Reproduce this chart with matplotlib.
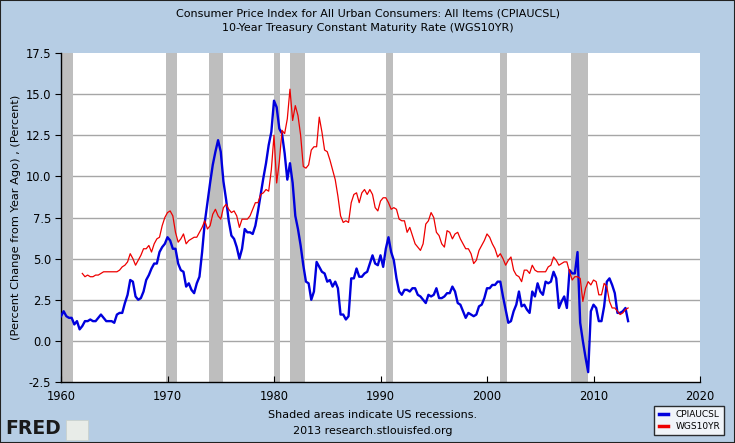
import matplotlib
matplotlib.use("Agg")
import matplotlib.pyplot as plt
import numpy as np
from matplotlib.patches import Rectangle

# CPI, percent change from year ago, quarterly from 1960
cpi_start = 1960
cpi = [
    1.5, 1.8, 1.5, 1.4,   # 1960
    1.4, 1.0, 1.2, 0.7,   # 1961
    0.9, 1.2, 1.2, 1.3,   # 1962
    1.2, 1.2, 1.4, 1.6,   # 1963
    1.4, 1.2, 1.2, 1.2,   # 1964
    1.1, 1.6, 1.7, 1.7,   # 1965
    2.3, 2.8, 3.7, 3.6,   # 1966
    2.7, 2.5, 2.6, 3.0,   # 1967
    3.7, 4.0, 4.4, 4.7,   # 1968
    4.7, 5.4, 5.7, 5.9,   # 1969
    6.3, 6.1, 5.6, 5.6,   # 1970
    4.7, 4.3, 4.2, 3.3,   # 1971
    3.5, 3.1, 2.9, 3.5,   # 1972
    3.9, 5.4, 7.2, 8.4,   # 1973
    9.6, 10.7, 11.5, 12.2,  # 1974
    11.5, 9.7, 8.6, 7.3,  # 1975
    6.4, 6.2, 5.7, 5.0,   # 1976
    5.6, 6.8, 6.6, 6.6,   # 1977
    6.5, 7.0, 7.9, 8.9,   # 1978
    9.9, 10.8, 11.9, 12.7,  # 1979
    14.6, 14.2, 12.9, 12.6,  # 1980
    11.4, 9.8, 10.8, 9.6,  # 1981
    7.6, 6.8, 5.8, 4.6,   # 1982
    3.6, 3.5, 2.5, 3.0,   # 1983
    4.8, 4.5, 4.2, 4.1,   # 1984
    3.6, 3.7, 3.3, 3.6,   # 1985
    3.2, 1.6, 1.6, 1.3,   # 1986
    1.5, 3.8, 3.8, 4.4,   # 1987
    3.9, 3.9, 4.1, 4.2,   # 1988
    4.7, 5.2, 4.7, 4.6,   # 1989
    5.2, 4.5, 5.6, 6.3,   # 1990
    5.4, 4.9, 3.8, 3.0,   # 1991
    2.8, 3.1, 3.1, 3.0,   # 1992
    3.2, 3.2, 2.8, 2.7,   # 1993
    2.5, 2.3, 2.8, 2.7,   # 1994
    2.8, 3.2, 2.6, 2.6,   # 1995
    2.7, 2.9, 2.9, 3.3,   # 1996
    3.0, 2.3, 2.2, 1.8,   # 1997
    1.4, 1.7, 1.6, 1.5,   # 1998
    1.6, 2.1, 2.2, 2.6,   # 1999
    3.2, 3.2, 3.4, 3.4,   # 2000
    3.6, 3.6, 2.7, 1.9,   # 2001
    1.1, 1.2, 1.8, 2.2,   # 2002
    3.0, 2.1, 2.2, 1.9,   # 2003
    1.7, 3.0, 2.7, 3.5,   # 2004
    3.0, 2.8, 3.6, 3.5,   # 2005
    3.6, 4.2, 3.8, 2.0,   # 2006
    2.4, 2.7, 2.0, 4.3,   # 2007
    4.1, 4.1, 5.4, 1.1,   # 2008
    0.0, -1.0, -1.9, 1.8,  # 2009
    2.2, 2.0, 1.2, 1.2,   # 2010
    2.1, 3.6, 3.8, 3.4,   # 2011
    2.9, 1.7, 1.7, 1.8,   # 2012
    2.0, 1.2,             # 2013
]

# 10-year treasury rate, quarterly from 1962
gs10_start = 1962
gs10 = [
    4.1, 3.9, 4.0, 3.9,   # 1962
    3.9, 4.0, 4.0, 4.1,   # 1963
    4.2, 4.2, 4.2, 4.2,   # 1964
    4.2, 4.2, 4.3, 4.5,   # 1965
    4.6, 4.8, 5.3, 5.0,   # 1966
    4.6, 4.9, 5.2, 5.6,   # 1967
    5.6, 5.8, 5.4, 5.9,   # 1968
    6.2, 6.3, 7.0, 7.5,   # 1969
    7.8, 7.9, 7.6, 6.6,   # 1970
    6.0, 6.2, 6.5, 5.9,   # 1971
    6.1, 6.2, 6.3, 6.3,   # 1972
    6.6, 6.9, 7.3, 6.8,   # 1973
    7.0, 7.7, 8.0, 7.6,   # 1974
    7.4, 8.1, 8.3, 8.0,   # 1975
    7.8, 7.9, 7.6, 6.9,   # 1976
    7.4, 7.4, 7.4, 7.6,   # 1977
    8.0, 8.4, 8.4, 8.9,   # 1978
    9.0, 9.2, 9.1, 10.4,  # 1979
    12.5, 9.6, 10.9, 12.8,  # 1980
    12.6, 13.5, 15.3, 13.4,  # 1981
    14.3, 13.7, 12.5, 10.6,  # 1982
    10.5, 10.7, 11.6, 11.8,  # 1983
    11.8, 13.6, 12.7, 11.6,  # 1984
    11.5, 11.0, 10.4, 9.8,  # 1985
    8.8, 7.6, 7.2, 7.3,   # 1986
    7.2, 8.4, 8.9, 9.0,   # 1987
    8.4, 9.0, 9.2, 8.9,   # 1988
    9.2, 8.9, 8.1, 7.9,   # 1989
    8.5, 8.7, 8.7, 8.4,   # 1990
    8.0, 8.1, 8.0, 7.4,   # 1991
    7.3, 7.3, 6.6, 6.9,   # 1992
    6.4, 5.9, 5.7, 5.5,   # 1993
    5.9, 7.1, 7.3, 7.8,   # 1994
    7.5, 6.6, 6.4, 5.9,   # 1995
    5.7, 6.7, 6.6, 6.2,   # 1996
    6.5, 6.6, 6.2, 5.9,   # 1997
    5.6, 5.6, 5.3, 4.7,   # 1998
    4.9, 5.5, 5.8, 6.1,   # 1999
    6.5, 6.3, 5.9, 5.6,   # 2000
    5.1, 5.3, 5.0, 4.6,   # 2001
    4.9, 5.1, 4.3, 4.0,   # 2002
    3.9, 3.6, 4.3, 4.3,   # 2003
    4.1, 4.6, 4.3, 4.2,   # 2004
    4.2, 4.2, 4.2, 4.5,   # 2005
    4.6, 5.1, 4.9, 4.6,   # 2006
    4.7, 4.8, 4.8, 4.2,   # 2007
    3.7, 3.9, 3.9, 3.8,   # 2008
    2.4, 3.2, 3.6, 3.4,   # 2009
    3.7, 3.6, 2.8, 2.8,   # 2010
    3.5, 3.3, 2.4, 2.0,   # 2011
    2.0, 1.8, 1.6, 1.7,   # 2012
    1.9, 2.0,             # 2013
]

# NBER recessions (start, end) as decimal years
recessions = [(1960.0, 1961.1), (1969.9, 1970.9), (1973.85, 1975.2),
              (1980.0, 1980.55), (1981.5, 1982.9), (1990.5, 1991.2),
              (2001.2, 2001.9), (2007.9, 2009.5)]

x_ticks = [1960, 1970, 1980, 1990, 2000, 2010, 2020]
y_ticks = [-2.5, 0.0, 2.5, 5.0, 7.5, 10.0, 12.5, 15.0, 17.5]

bg = "#b6cde4"
W, H = 735, 443

fig = plt.figure(figsize=(W / 100, H / 100), dpi=100, facecolor=bg)
ax = fig.add_axes([61 / W, 1 - 382 / H, (700 - 61) / W, (382 - 53) / H])
ax.set_facecolor("white")

for s, e in recessions:
    ax.axvspan(s, e, color="#bebebe", lw=0, zorder=1)

for v in y_ticks[1:-1]:
    ax.axhline(v, color="#a6a6a6", lw=1.0, zorder=0.5)

t_cpi = cpi_start + np.arange(len(cpi)) / 4
t_gs = gs10_start + np.arange(len(gs10)) / 4
ax.plot(t_cpi, cpi, color="#0000dd", lw=1.7, label="CPIAUCSL", zorder=3)
ax.plot(t_gs, gs10, color="#ee0000", lw=0.9, label="WGS10YR", zorder=4)

ax.set_xlim(1960, 2020)
ax.set_ylim(-2.5, 17.5)
ax.set_xticks(x_ticks)
ax.set_yticks(y_ticks)
ax.set_yticklabels([f"{v:.1f}" for v in y_ticks])
ax.tick_params(axis="x", direction="in", length=4, pad=6, labelsize=8.3, color="black")
ax.tick_params(axis="y", direction="out", length=4, pad=3, labelsize=8.3, color="black")
for side in ["top", "right"]:
    ax.spines[side].set_visible(False)
for side in ["left", "bottom"]:
    ax.spines[side].set_linewidth(1.0)
ax.set_ylabel("(Percent Change from Year Ago) , (Percent)", fontsize=8.2, labelpad=3)

fig.text(0.5, 1 - 13 / H, "Consumer Price Index for All Urban Consumers: All Items (CPIAUCSL)",
         ha="center", va="center", fontsize=8)
fig.text(0.5, 1 - 28 / H, "10-Year Treasury Constant Maturity Rate (WGS10YR)",
         ha="center", va="center", fontsize=8)
fig.text(373 / W, 1 - 415 / H, "Shaded areas indicate US recessions.",
         ha="center", va="center", fontsize=8)
fig.text(373 / W, 1 - 431 / H, "2013 research.stlouisfed.org",
         ha="center", va="center", fontsize=8)

# FRED logo
fig.text(5 / W, 1 - 429 / H, "FRED", ha="left", va="center", fontsize=13.5,
         fontweight="bold", color="#1a1a1a")
fig.patches.append(Rectangle((66 / W, 1 - 440 / H), 22 / W, 20 / H,
                             transform=fig.transFigure, facecolor="#e8ece8",
                             edgecolor="#c8d0c8", lw=0.5))

leg = fig.legend(loc="lower right", bbox_to_anchor=(729 / W, 1 - 440 / H),
                 fontsize=6.5, frameon=True, fancybox=False, handlelength=1.0,
                 handletextpad=0.8, borderpad=0.5, labelspacing=0.3)
leg.get_frame().set_edgecolor("black")
leg.get_frame().set_linewidth(1.0)
for h in leg.legend_handles:
    h.set_linewidth(2.5)

# outer border
fig.patches.append(Rectangle((0, 0), 1, 1, transform=fig.transFigure,
                             fill=False, edgecolor="#222222", lw=1.5))

fig.savefig("out.png", dpi=100, facecolor=bg)
